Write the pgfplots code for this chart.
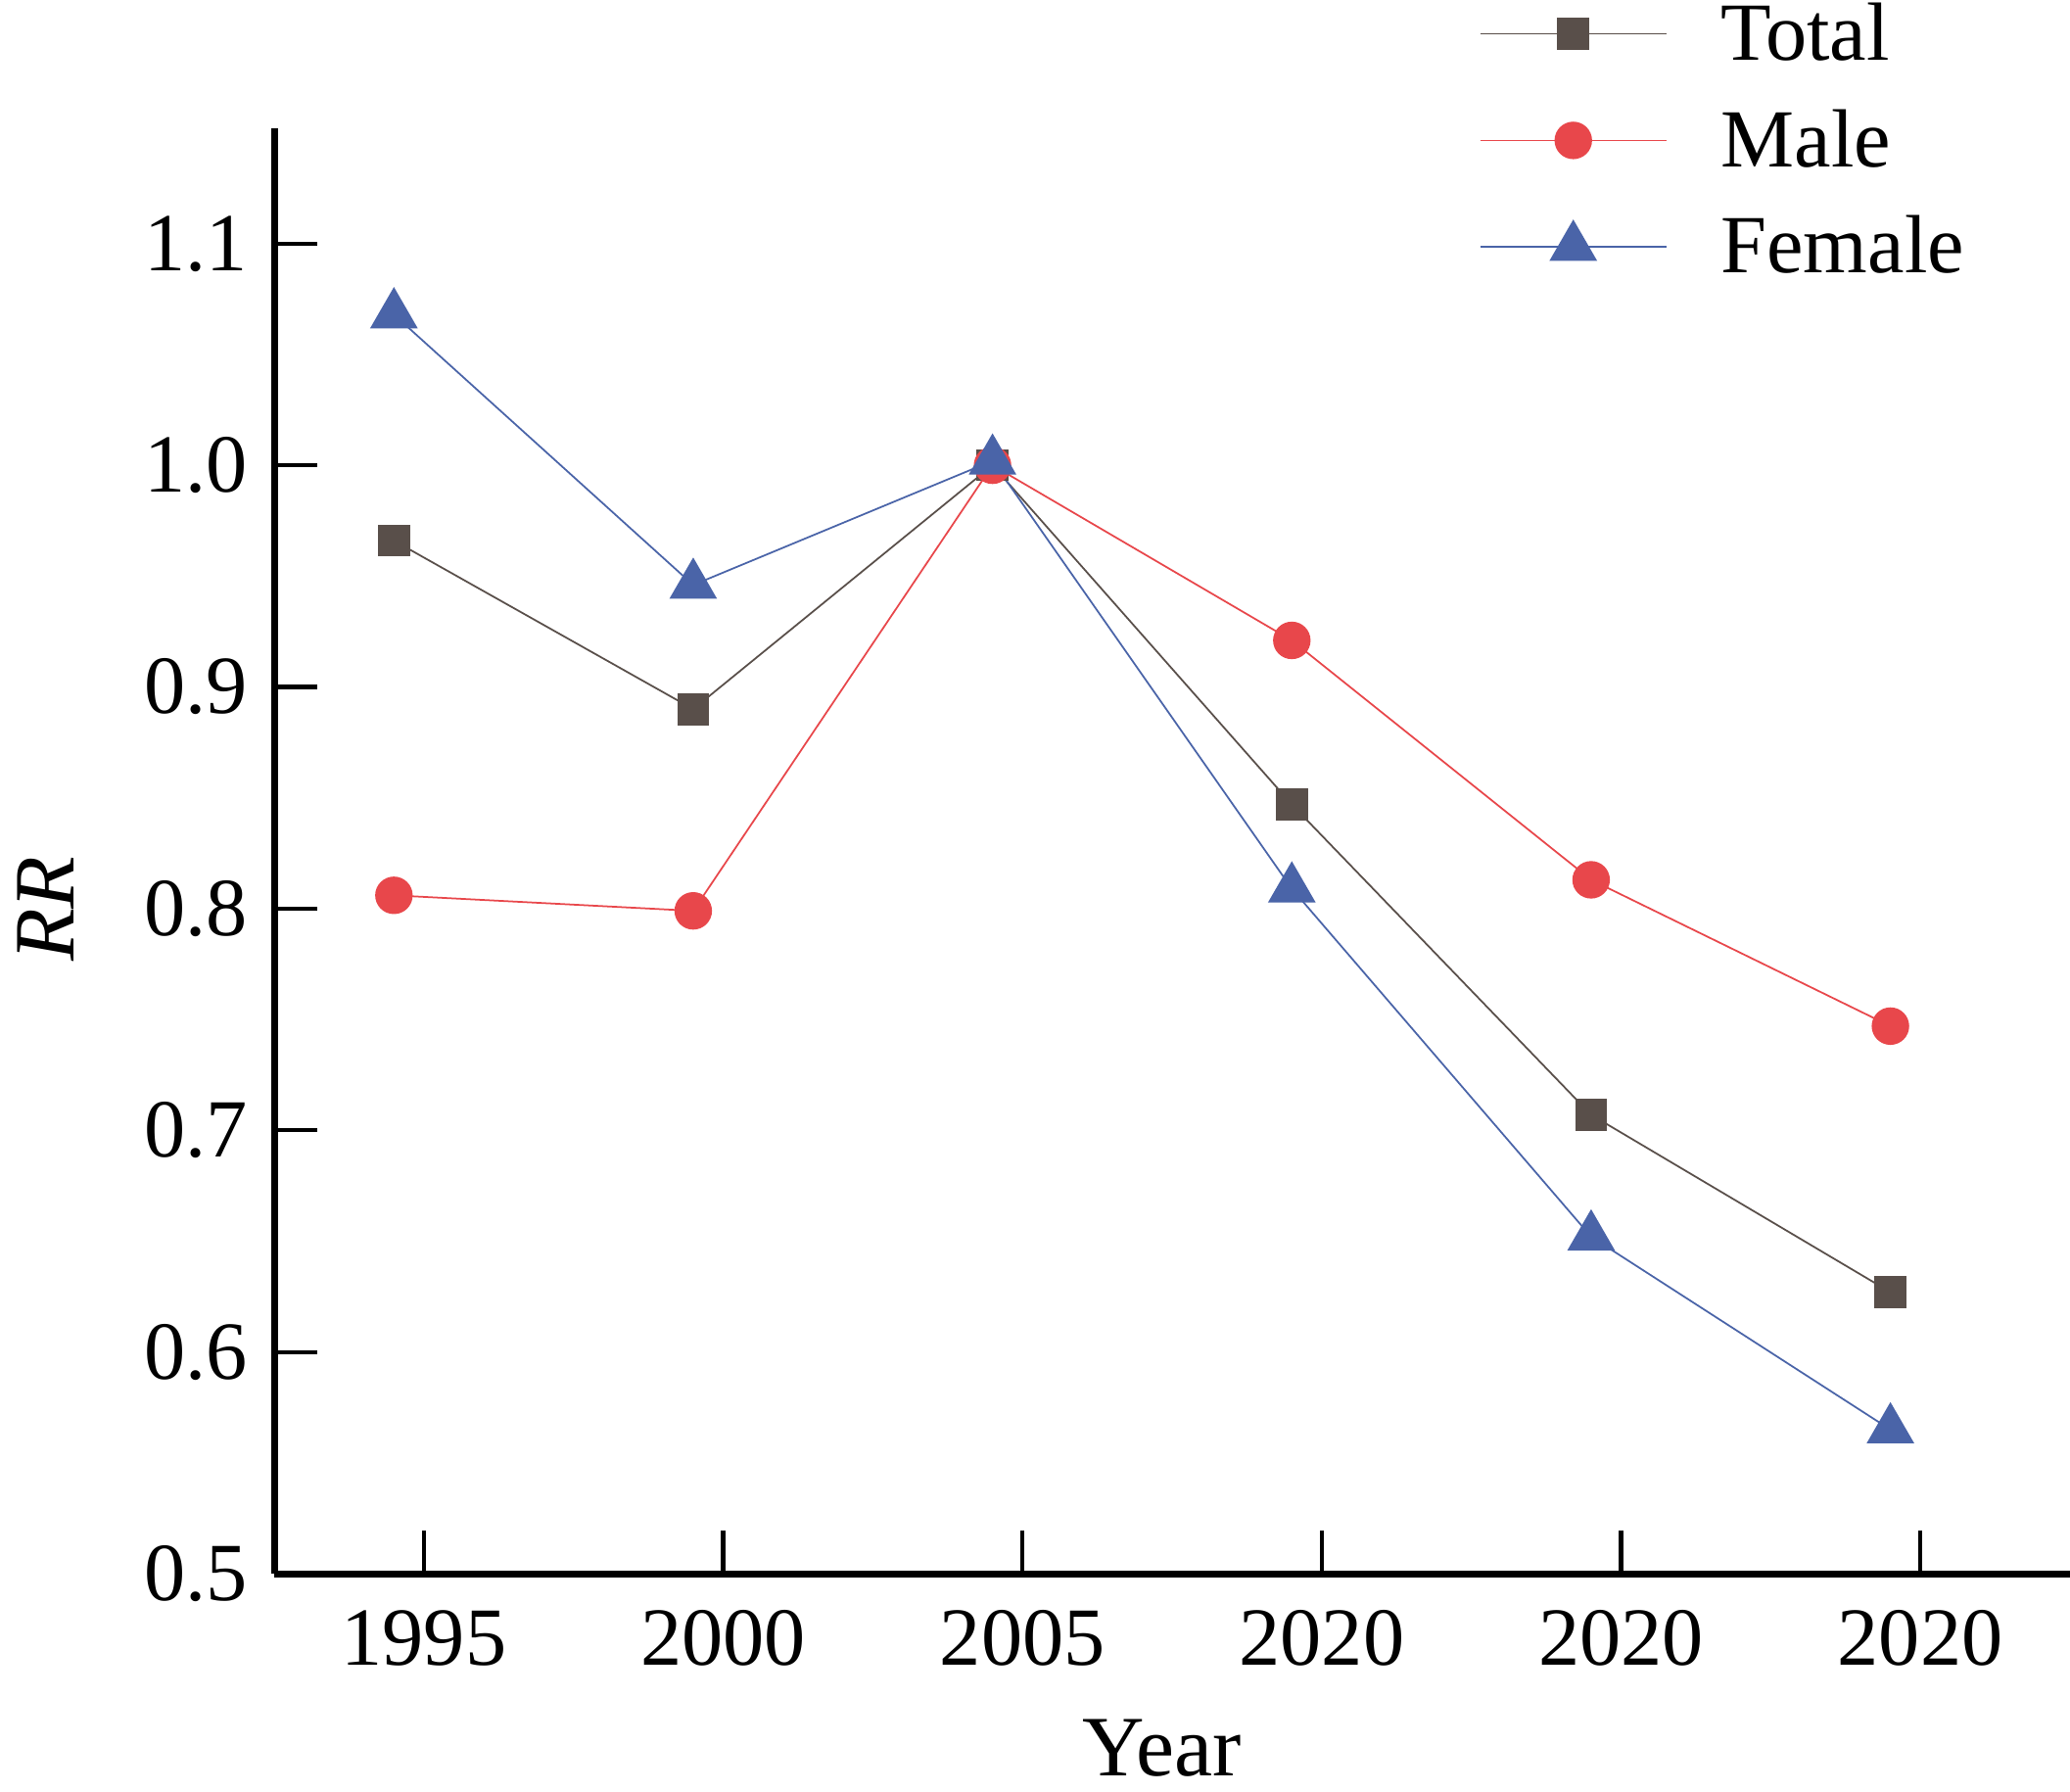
\documentclass[border=0pt]{standalone}
\usepackage{pgfplots}
\pgfplotsset{compat=1.18}
\usepackage{fontspec}
\setmainfont{Liberation Serif}
\definecolor{cTotal}{HTML}{594F4A}
\definecolor{cMale}{HTML}{E8474B}
\definecolor{cFemale}{HTML}{4A64A8}
\begin{document}
\begin{tikzpicture}
\begin{axis}[
  scale only axis,
  width=183.4mm, height=147.6mm,
  xmin=-0.5, xmax=5.5,
  ymin=0.5, ymax=1.152,
  axis lines=left,
  axis line style={line width=2pt, -},
  xtick={0,1,2,3,4,5},
  xticklabels={1995,2000,2005,2020,2020,2020},
  ytick={0.5,0.6,0.7,0.8,0.9,1.0,1.1},
  /pgf/number format/fixed,
  /pgf/number format/fixed zerofill,
  /pgf/number format/precision=1,
  /pgf/number format/assume math mode=true,
  tick align=inside,
  major tick length=4.4mm,
  every tick/.style={black, line width=1.2pt},
  tick label style={font=\fontsize{24}{28}\selectfont},
  xticklabel style={yshift=-2.5mm},
  yticklabel style={xshift=-1.5mm},
  xlabel={Year},
  ylabel={\textit{RR}},
  label style={font=\fontsize{25}{30}\selectfont},
  xlabel style={at={(rel axis cs:0.4945,-0.121)}, anchor=center},
  ylabel style={at={(rel axis cs:-0.127,0.46)}, anchor=center},
  clip=false,
  legend cell align=left,
  legend style={draw=none, fill=none, at={(rel axis cs:0.665,1.097)}, anchor=north west,
    font=\fontsize{24}{28}\selectfont, row sep=3.1mm,
    nodes={inner xsep=5.5mm}},
  legend image code/.code={\draw[#1, mark repeat=2, mark phase=2] plot coordinates {(0cm,0cm) (0.95cm,0cm) (1.9cm,0cm)};},
]
\addplot[cTotal, line width=0.5pt, mark=square*, mark size=4.4pt, mark options={solid, fill=cTotal, draw=cTotal}]
  coordinates {(-0.1,0.966) (0.9,0.890) (1.9,1.000) (2.9,0.847) (3.9,0.707) (4.9,0.627)};
\addlegendentry{Total}
\addplot[cMale, line width=0.5pt, mark=*, mark size=5.2pt, mark options={solid, fill=cMale, draw=cMale}]
  coordinates {(-0.1,0.806) (0.9,0.799) (1.9,1.000) (2.9,0.921) (3.9,0.813) (4.9,0.747)};
\addlegendentry{Male}
\addplot[cFemale, line width=0.5pt, mark=triangle*, mark size=7.5pt, mark options={solid, fill=cFemale, draw=cFemale}]
  coordinates {(-0.1,1.068) (0.9,0.946) (1.9,1.002) (2.9,0.809) (3.9,0.652) (4.9,0.565)};
\addlegendentry{Female}
\coordinate (bbl) at (rel axis cs:-0.1527,-0.1504);
\coordinate (btr) at (rel axis cs:1,1.0888);
\end{axis}
\pgfresetboundingbox
\path[use as bounding box] (bbl) rectangle (btr);
\end{tikzpicture}
\end{document}
